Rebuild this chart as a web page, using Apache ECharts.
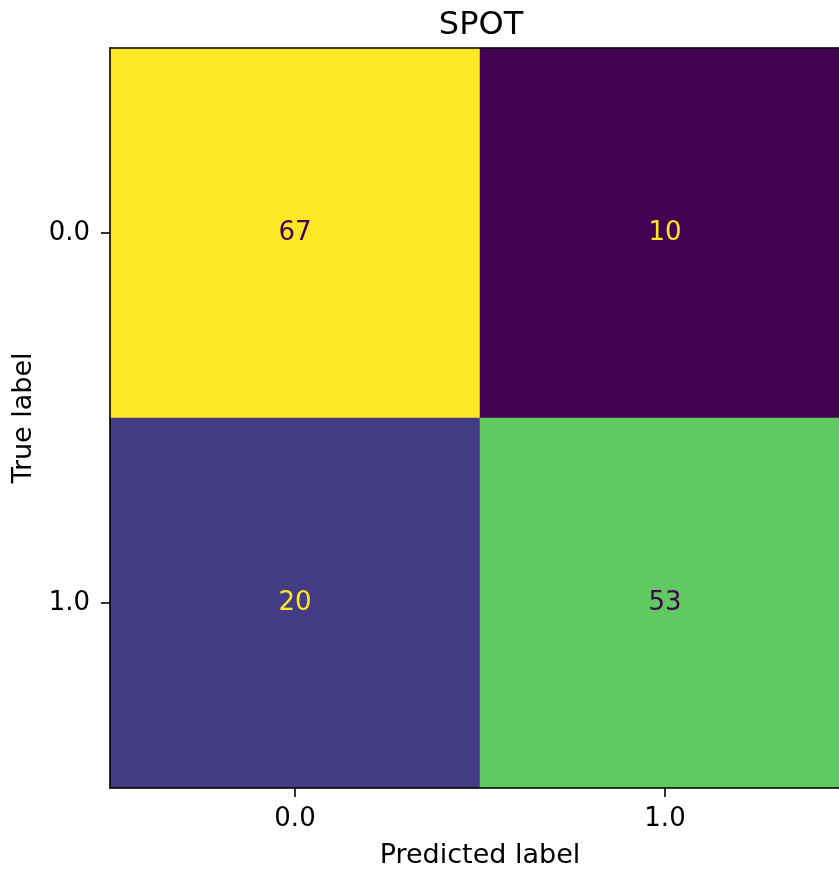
<!DOCTYPE html>
<html>
<head>
<meta charset="utf-8">
<script src="https://cdn.jsdelivr.net/npm/echarts@6/dist/echarts.min.js"></script>
<style>
html,body{margin:0;padding:0;background:#fff;}
#chart{width:839px;height:869px;}
</style>
</head>
<body>
<div id="chart"></div>
<script>
const titleText = "SPOT";
const predictedLabels = ["0.0", "1.0"];
const trueLabels = ["0.0", "1.0"];
const trueRow0 = [67, 10];
const trueRow1 = [20, 53];
const xName = "Predicted label";
const yName = "True label";

const viridis = ["#440154","#471365","#482475","#463480","#414487","#3b528b","#355f8d","#2f6c8e","#2a788e","#25848e","#21918c","#1e9c89","#22a884","#2fb47c","#44bf70","#5ec962","#7ad151","#9bd93c","#bddf26","#dfe318","#fde725"];

const rows = [trueRow0, trueRow1];
const allVals = rows.flat();
const vmin = Math.min(...allVals), vmax = Math.max(...allVals);
const thresh = (vmin + vmax) / 2;
const data = [];
rows.forEach((row, yi) => row.forEach((v, xi) => {
  data.push({value: [xi, yi, v], label: {color: v < thresh ? viridis[viridis.length - 1] : viridis[0]}});
}));

const font = "DejaVu Sans";
const chart = echarts.init(document.getElementById('chart'), null, {renderer: 'canvas'});
chart.setOption({
  animation: false,
  backgroundColor: '#fff',
  title: {
    text: titleText, left: 476, top: 5, textAlign: 'center',
    textStyle: {fontFamily: font, fontSize: 32, fontWeight: 'normal', color: '#000'}
  },
  grid: {left: 110, top: 48, width: 740, height: 740, show: false, containLabel: false, outerBoundsMode: 'none'},
  xAxis: [{
    type: 'category', data: predictedLabels, position: 'bottom', z: 10,
    name: xName, nameLocation: 'middle', nameGap: 54,
    nameTextStyle: {fontFamily: font, fontSize: 27, color: '#000'},
    axisLine: {show: true, lineStyle: {color: '#000', width: 1.6}},
    axisTick: {show: true, alignWithLabel: true, length: 9, lineStyle: {color: '#000', width: 1.6}},
    axisLabel: {fontFamily: font, fontSize: 26, color: '#000', margin: 18},
    splitLine: {show: false}
  }, {
    type: 'category', data: predictedLabels, position: 'top', z: 10,
    axisLine: {show: true, lineStyle: {color: '#000', width: 1.6}},
    axisTick: {show: false}, axisLabel: {show: false}, splitLine: {show: false}
  }],
  yAxis: [{
    type: 'category', data: trueLabels, inverse: true, position: 'left', z: 10,
    name: yName, nameLocation: 'middle', nameGap: 72, nameRotate: 90,
    nameTextStyle: {fontFamily: font, fontSize: 27, color: '#000'},
    axisLine: {show: true, lineStyle: {color: '#000', width: 1.6}},
    axisTick: {show: true, alignWithLabel: true, length: 9, lineStyle: {color: '#000', width: 1.6}},
    axisLabel: {fontFamily: font, fontSize: 26, color: '#000', margin: 20, padding: [4, 0, 0, 0]},
    splitLine: {show: false}
  }, {
    type: 'category', data: trueLabels, inverse: true, position: 'right', z: 10,
    axisLine: {show: true, lineStyle: {color: '#000', width: 1.6}},
    axisTick: {show: false}, axisLabel: {show: false}, splitLine: {show: false}
  }],
  visualMap: {
    show: false, min: vmin, max: vmax, dimension: 2, seriesIndex: 0,
    inRange: {color: viridis}
  },
  series: [{
    type: 'heatmap', xAxisIndex: 0, yAxisIndex: 0, data: data,
    label: {show: true, fontFamily: font, fontSize: 26, padding: [4, 0, 0, 0], formatter: p => String(p.value[2])},
    itemStyle: {borderWidth: 0},
    emphasis: {disabled: true}
  }]
});
</script>
</body>
</html>
